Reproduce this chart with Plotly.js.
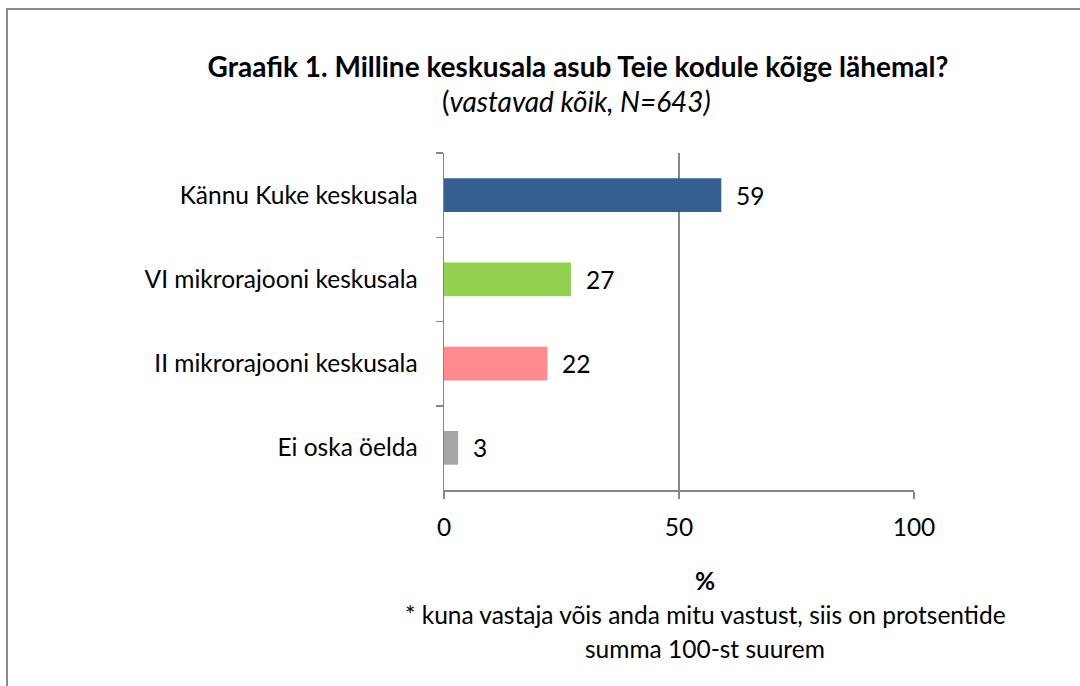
<!DOCTYPE html>
<html>
<head>
<meta charset="utf-8">
<script src="https://cdn.plot.ly/plotly-3.0.1.min.js"></script>
<style>
  html, body { margin: 0; padding: 0; background: #fff; }
  #chart { width: 1080px; height: 686px; }
  #frame { position: absolute; left: 6px; top: 8px; width: 1100px; height: 700px; border: 2px solid #8c8c8c; pointer-events: none; }
</style>
</head>
<body>
<div id="chart"></div>
<div id="frame"></div>
<script>
const categories = ["Kännu Kuke keskusala", "VI mikrorajooni keskusala", "II mikrorajooni keskusala", "Ei oska öelda"];
const values = [59, 27, 22, 3];
const barColors = ["#355F91", "#92D050", "#FF8B8F", "#A6A6A6"];
const xTicks = [0, 50, 100];

const FONT = "Lato, 'Open Sans', sans-serif";
const FS = 24.5;

const trace = {
  type: "bar",
  orientation: "h",
  x: values,
  y: categories,
  width: 0.4,
  marker: { color: barColors, line: { width: 0 } },
  hoverinfo: "x+y",
  cliponaxis: false
};

const labelAnnotations = values.map((v, i) => ({
  x: v, y: categories[i], xref: "x", yref: "y",
  text: String(v), showarrow: false,
  xanchor: "left", yanchor: "middle", xshift: 13,
  font: { family: FONT, size: FS, color: "#000" }
}));

const layout = {
  width: 1080, height: 686,
  paper_bgcolor: "#fff", plot_bgcolor: "#fff",
  margin: { l: 444, r: 166, t: 153, b: 196 },
  font: { family: FONT, size: FS, color: "#000" },
  showlegend: false,
  bargap: 0.6,
  title: {
    text: "<b>Graafik 1. Milline keskusala asub Teie kodule kõige lähemal?</b>",
    x: 578 / 1080, xanchor: "center", xref: "container",
    y: 1 - 67 / 686, yanchor: "middle", yref: "container",
    font: { family: FONT, size: 28, color: "#000" }
  },
  xaxis: {
    range: [0, 100],
    tickvals: xTicks,
    ticktext: xTicks.map(String),
    showgrid: true, gridcolor: "#868686", gridwidth: 1.5,
    zeroline: false,
    showline: true, linecolor: "#868686", linewidth: 1.5,
    ticks: "outside", ticklen: 7, tickcolor: "#868686", tickwidth: 1.5,
    tickfont: { family: FONT, size: FS, color: "#000" },
    ticklabelstandoff: 8,
    fixedrange: true
  },
  yaxis: {
    type: "category",
    autorange: "reversed",
    showgrid: false, zeroline: false,
    showline: true, linecolor: "#868686", linewidth: 1.5,
    ticks: "outside", ticklen: 7, tickcolor: "#868686", tickwidth: 1.5,
    tickson: "boundaries",
    tickfont: { family: FONT, size: FS, color: "#000" },
    ticklabelstandoff: 20,
    fixedrange: true
  },
  annotations: [
    {
      text: "(<i>vastavad kõik, N=643)</i>",
      xref: "paper", yref: "paper",
      x: (576 - 444) / 470, y: 1 + (153 - 101) / 337,
      xanchor: "center", yanchor: "middle", showarrow: false,
      font: { family: FONT, size: 28, color: "#000" }
    },
    {
      text: "<b>%</b>",
      xref: "paper", yref: "paper",
      x: (705 - 444) / 470, y: -(580 - 490) / 337,
      xanchor: "center", yanchor: "middle", showarrow: false,
      font: { family: FONT, size: FS, color: "#000" }
    },
    {
      text: "* kuna vastaja võis anda mitu vastust, siis on protsentide",
      xref: "paper", yref: "paper",
      x: (705 - 444) / 470, y: -(614 - 490) / 337,
      xanchor: "center", yanchor: "middle", showarrow: false,
      font: { family: FONT, size: FS, color: "#000" }
    },
    {
      text: "summa 100-st suurem",
      xref: "paper", yref: "paper",
      x: (705 - 444) / 470, y: -(648 - 490) / 337,
      xanchor: "center", yanchor: "middle", showarrow: false,
      font: { family: FONT, size: FS, color: "#000" }
    }
  ].concat(labelAnnotations)
};

Plotly.newPlot("chart", [trace], layout, { displayModeBar: false, staticPlot: true });
</script>
</body>
</html>
